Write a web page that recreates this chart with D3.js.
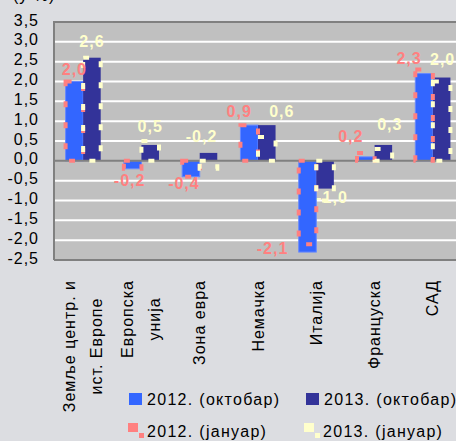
<!DOCTYPE html>
<html><head><meta charset="utf-8">
<script src="https://cdn.jsdelivr.net/npm/d3@7"></script>
<style>
html,body{margin:0;padding:0;background:#dcdde1;}
svg{display:block;font-family:"Liberation Sans",Arial,sans-serif;}
</style></head><body>
<svg id="c" width="456" height="441"></svg>
<script>
// ---- data ----
const categories = ["Земље центр. и\nист. Европе","Европска\nунија","Зона евра","Немачка","Италија","Француска","САД"];
const oct2012 = [2.0,-0.2,-0.4,0.9,-2.3,0.1,2.2];
const oct2013 = [2.6,0.4,0.2,0.9,-0.7,0.4,2.1];
const jan2012 = [2.0,-0.2,-0.4,0.9,-2.1,0.2,2.3];
const jan2013 = [2.6,0.5,-0.2,0.6,-1.0,0.3,2.0];
const yTicks = [-2.5,-2.0,-1.5,-1.0,-0.5,0.0,0.5,1.0,1.5,2.0,2.5,3.0,3.5];
const seriesNames = ["2012. (октобар)","2013. (октобар)","2012. (јануар)","2013. (јануар)"];
const unitLabel = "(у %)";
// label nudges (layout only, relative to default label placement)
const nudgeJan2012 = [[0,0],[-3,0],[-7,-5],[-10,-2],[-35,-8],[-15,-4],[-15,1]];
const nudgeJan2013 = [[0,-4],[0,-3],[-7,-44],[15,-14],[7,-15.5],[6.5,-12],[1,-10.5]];

// ---- layout ----
const C = {blue:"#3366ff", navy:"#333399", pink:"#ff8080", yellow:"#ffffcc", plot:"#c0c0c0", border:"#808080"};
const L = 54, R = 462, T = 22, B = 260;
const svg = d3.select("#c");
const fmt = d3.formatLocale({decimal:",", thousands:".", grouping:[3], currency:["",""], minus:"-"}).format(".1f");

const x0 = d3.scaleBand().domain(categories).range([L, R]).padding(0);
const x1 = d3.scaleBand().domain(["a","b"]).range([0, x0.bandwidth()]).paddingInner(0).paddingOuter(0.66);
const y = d3.scaleLinear().domain([-2.5, 3.5]).range([B, T]);

// plot background
svg.append("rect").attr("x", L).attr("y", T).attr("width", 456 - L + 10).attr("height", B - T).attr("fill", C.plot);

// gridlines
svg.append("g").selectAll("line").data(yTicks.filter(v => v !== 0 && v !== 3.5 && v !== -2.5)).join("line")
  .attr("x1", L).attr("x2", 470).attr("y1", d => y(d)).attr("y2", d => y(d))
  .attr("stroke", "#ffffff").attr("stroke-width", 2);

// y axis labels
svg.append("g").selectAll("text").data(yTicks).join("text")
  .attr("x", 39).attr("y", d => y(d) + 3.5).attr("text-anchor", "end")
  .attr("font-size", 16).attr("letter-spacing", 1).attr("fill", "#000").text(d => fmt(d));

// bars
function bars(vals, key, color, stroke) {
  svg.append("g").selectAll("rect").data(vals).join("rect")
    .attr("x", (d, i) => x0(categories[i]) + x1(key))
    .attr("width", x1.bandwidth())
    .attr("y", d => y(Math.max(0, d)))
    .attr("height", d => Math.abs(y(d) - y(0)))
    .attr("fill", color).attr("stroke", stroke || "none").attr("stroke-width", stroke ? 1 : 0);
}
bars(oct2012, "a", C.blue, "#6688ff");
bars(oct2013, "b", C.navy);

// zero line
svg.append("line").attr("x1", L).attr("x2", 470).attr("y1", y(0)).attr("y2", y(0))
  .attr("stroke", C.border).attr("stroke-width", 2);

// dashed january outlines
function dashed(vals, key, color) {
  svg.append("g").selectAll("rect").data(vals).join("rect")
    .attr("x", (d, i) => x0(categories[i]) + x1(key))
    .attr("width", x1.bandwidth())
    .attr("y", d => y(Math.max(0, d)))
    .attr("height", d => Math.abs(y(d) - y(0)))
    .attr("fill", "none").attr("stroke", color).attr("stroke-width", 4)
    .attr("stroke-dasharray", "6 15");
}
dashed(jan2012, "a", C.pink);
dashed(jan2013, "b", C.yellow);

// plot border
svg.append("path").attr("d", `M${L},${B}V${T}H470M${L},${B}H470`)
  .attr("fill", "none").attr("stroke", C.border).attr("stroke-width", 2);

// value labels
function labels(vals, key, color, nudge) {
  svg.append("g").selectAll("text").data(vals).join("text")
    .attr("x", (d, i) => x0(categories[i]) + x1(key) + x1.bandwidth() / 2 + nudge[i][0])
    .attr("y", (d, i) => (d >= 0 ? y(d) - 12 : y(d) + 12) + 5.5 + nudge[i][1])
    .attr("text-anchor", "middle").attr("font-size", 16).attr("font-weight", "bold")
    .attr("letter-spacing", 1).attr("fill", color).text(d => fmt(d));
}
labels(jan2012, "a", C.pink, nudgeJan2012);
labels(jan2013, "b", C.yellow, nudgeJan2013);

// category labels
categories.forEach(cat => {
  const lines = cat.split("\n");
  const g = svg.append("g");
  const cx = x0(cat) + x0.bandwidth() / 2;
  const texts = lines.map((ln, j) => {
    const off = (j - (lines.length - 1) / 2) * 27 + 5.5;
    return g.append("text").attr("font-size", 16).attr("letter-spacing", 1)
      .attr("text-anchor", "middle").attr("fill", "#000").text(ln).datum(cx + off);
  });
  const len = d3.max(texts, t => t.node().getComputedTextLength());
  texts.forEach(t => t.attr("transform", `translate(${t.datum()},${280 + len / 2}) rotate(-90)`));
});

// unit label (partly above the visible area, as in the reference)
svg.append("text").attr("x", 13).attr("y", 1).attr("font-size", 16).attr("letter-spacing", 1)
  .attr("fill", "#000").text(unitLabel);

// legend
const leg = [
  {name: seriesNames[0], type: "fill", color: C.blue, x: 129, y: 399},
  {name: seriesNames[1], type: "fill", color: C.navy, x: 306, y: 399},
  {name: seriesNames[2], type: "dash", color: C.pink, x: 128, y: 431},
  {name: seriesNames[3], type: "dash", color: C.yellow, x: 304, y: 431}
];
leg.forEach(it => {
  const g = svg.append("g");
  if (it.type === "fill") {
    g.append("rect").attr("x", it.x).attr("y", it.y - 6).attr("width", 13).attr("height", 12).attr("fill", it.color);
  } else {
    g.append("rect").attr("x", it.x).attr("y", it.y - 8).attr("width", 10).attr("height", 9).attr("fill", it.color);
    g.append("rect").attr("x", it.x + 11).attr("y", it.y + 2).attr("width", 5).attr("height", 5).attr("fill", it.color);
  }
  g.append("text").attr("x", it.x + (it.type === "fill" ? 18 : 19)).attr("y", it.y + 6)
    .attr("font-size", 16).attr("letter-spacing", 1.3).attr("fill", "#000")
    .text(it.name);
});
</script>
</body></html>
